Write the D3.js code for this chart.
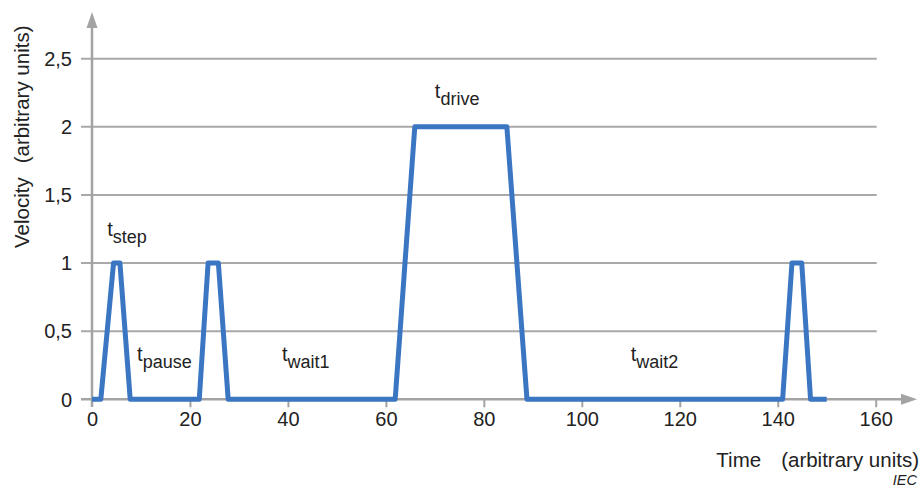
<!DOCTYPE html>
<html>
<head>
<meta charset="utf-8">
<script src="https://cdn.jsdelivr.net/npm/d3@7"></script>
<style>
  html, body { margin: 0; padding: 0; background: #fff; }
  svg { display: block; font-family: "Liberation Sans", Arial, sans-serif; }
</style>
</head>
<body>
<svg id="chart" width="921" height="490"></svg>
<script>
// Velocity profile: step, pause, wait, drive phases
const timeValues     = [0, 1.8, 4.4, 5.7, 7.8, 21.9, 23.7, 25.8, 27.8, 61.9, 65.9, 84.7, 88.8, 141.0, 142.9, 144.9, 146.7, 150];
const velocityValues = [0, 0,   1,   1,   0,   0,    1,    1,    0,    0,    2,    2,    0,    0,     1,     1,     0,     0];

const xTicks = [0, 20, 40, 60, 80, 100, 120, 140, 160];
const yTicks = [0, 0.5, 1, 1.5, 2, 2.5];
const yTickLabels = ["0", "0,5", "1", "1,5", "2", "2,5"];

// Phase annotations: base letter, subscript, anchor in data units
const phaseNames = ["step", "pause", "wait1", "drive", "wait2"];
const phaseTime  = [3.1, 9.2, 38.8, 70.0, 110.0];
const phaseLevel = [1.2, 0.28, 0.28, 2.21, 0.28];

const svg = d3.select("#chart");

const x = d3.scaleLinear().domain([0, 160]).range([92, 875.7]);
const y = d3.scaleLinear().domain([0, 2.5]).range([399.3, 58.7]);

const gridColor = "#a9a9a9";
const axisColor = "#a3a3a3";
const textColor = "#222";

// Horizontal gridlines (with short ticks left of the axis)
svg.append("g").selectAll("line")
  .data(yTicks.filter(d => d > 0))
  .join("line")
  .attr("x1", 81).attr("x2", x(160) + 1)
  .attr("y1", d => y(d)).attr("y2", d => y(d))
  .attr("stroke", gridColor).attr("stroke-width", 2);

// Y tick labels
svg.append("g").selectAll("text")
  .data(yTicks)
  .join("text")
  .attr("x", 72).attr("y", d => y(d))
  .attr("dy", "0.36em")
  .attr("text-anchor", "end")
  .attr("font-size", 20)
  .attr("fill", textColor)
  .text((d, i) => yTickLabels[i]);

// X axis built from the scale, restyled
const xAxis = d3.axisBottom(x).tickValues(xTicks).tickSize(8).tickPadding(5).tickFormat(d3.format("d"));
const gx = svg.append("g").attr("transform", `translate(0,${y(0)})`).call(xAxis);
gx.select(".domain").remove();
gx.selectAll(".tick line").attr("stroke", axisColor).attr("stroke-width", 2);
gx.selectAll(".tick text").attr("font-size", 20).attr("fill", textColor)
  .attr("font-family", "Liberation Sans, Arial, sans-serif");
gx.selectAll(".tick").filter(d => d === 0).select("line").remove();

// Axis lines with arrowheads
svg.append("line")
  .attr("x1", 81).attr("x2", 903)
  .attr("y1", y(0)).attr("y2", y(0))
  .attr("stroke", axisColor).attr("stroke-width", 2.5);
svg.append("path")
  .attr("d", `M917,${y(0)} L901,${y(0) - 5.5} L901,${y(0) + 5.5} Z`)
  .attr("fill", axisColor);

svg.append("line")
  .attr("x1", x(0)).attr("x2", x(0))
  .attr("y1", 407).attr("y2", 27)
  .attr("stroke", axisColor).attr("stroke-width", 2.5);
svg.append("path")
  .attr("d", `M${x(0)},12 L${x(0) - 5.5},28 L${x(0) + 5.5},28 Z`)
  .attr("fill", axisColor);

// Velocity trace
const line = d3.line()
  .x((d, i) => x(timeValues[i]))
  .y(d => y(d));
svg.append("path")
  .attr("d", line(velocityValues))
  .attr("fill", "none")
  .attr("stroke", "#3b76c2")
  .attr("stroke-width", 5)
  .attr("stroke-linejoin", "round")
  .attr("stroke-linecap", "butt");

// Phase labels
const labels = svg.append("g").attr("font-size", 20).attr("fill", textColor);
phaseNames.forEach((name, i) => {
  const t = labels.append("text")
    .attr("x", x(phaseTime[i]))
    .attr("y", y(phaseLevel[i]));
  t.append("tspan").text("t");
  t.append("tspan").attr("dy", 7).attr("font-size", 18).text(name);
});

// Axis titles
const yTitle = svg.append("text")
  .attr("transform", "translate(29,248) rotate(-90)")
  .attr("font-size", 20.5)
  .attr("fill", textColor);
yTitle.append("tspan").text("Velocity");
yTitle.append("tspan").attr("dx", 14).text("(arbitrary units)");

const xTitle = svg.append("text")
  .attr("x", 919).attr("y", 467)
  .attr("text-anchor", "end")
  .attr("font-size", 20.5)
  .attr("fill", textColor);
xTitle.append("tspan").text("Time");
xTitle.append("tspan").attr("dx", 20).text("(arbitrary units)");

svg.append("text")
  .attr("x", 917).attr("y", 485)
  .attr("text-anchor", "end")
  .attr("font-size", 14.5)
  .attr("font-style", "italic")
  .attr("fill", textColor)
  .text("IEC");
</script>
</body>
</html>
